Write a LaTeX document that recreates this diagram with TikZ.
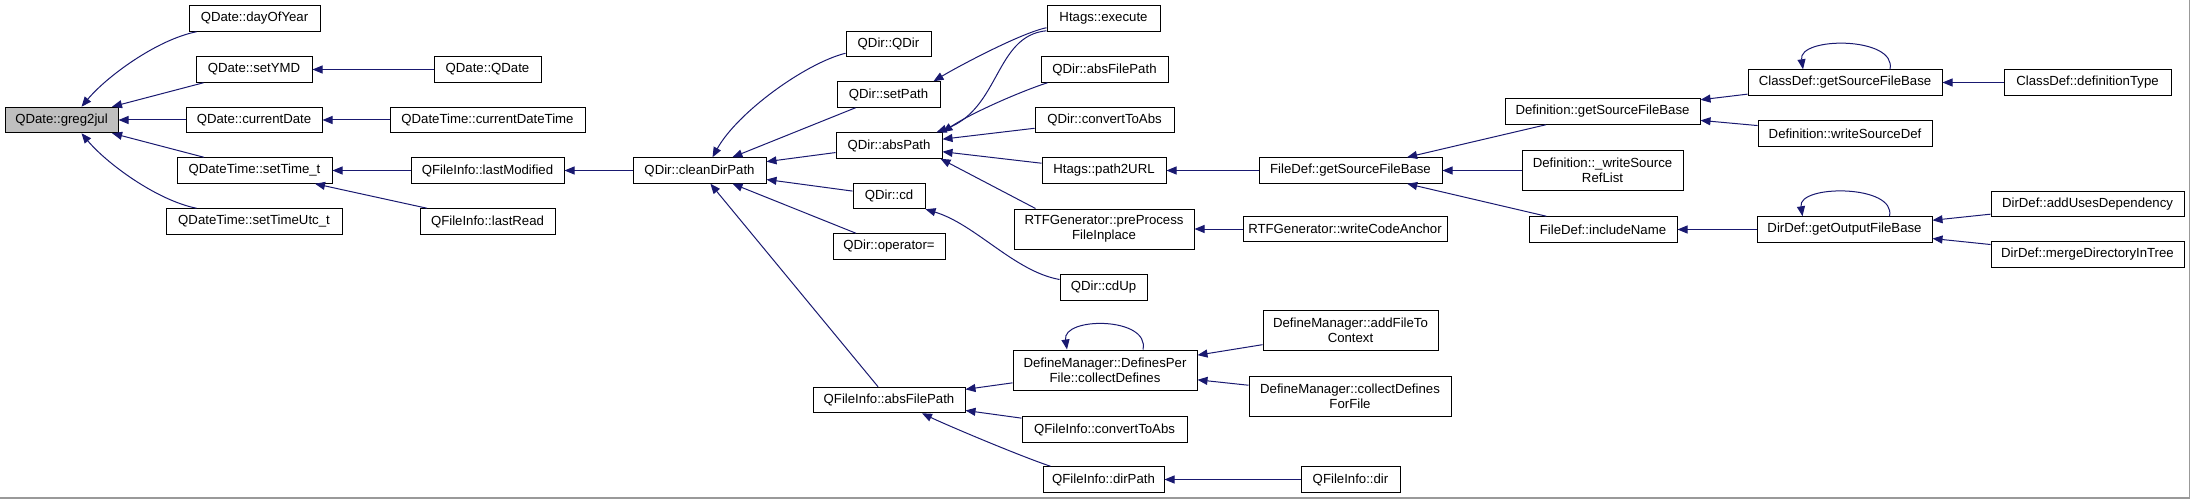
\documentclass[tikz,border=0pt]{standalone}
\usepackage{fontspec}
\setmainfont{Liberation Sans}
\usetikzlibrary{arrows.meta}
\definecolor{edgeblue}{HTML}{191970}
\begin{document}
\begin{tikzpicture}[x=0.75pt,y=-0.75pt,
    fn/.style={draw,line width=0.75pt,inner sep=0pt,minimum width=#1*0.75pt,
      minimum height=25.5*0.75pt,font=\fontsize{9.9}{11.25}\selectfont},
    fn2/.style={fn=#1,minimum height=40*0.75pt,align=center},
    call/.style={draw=edgeblue,line width=0.75pt,-{Triangle[length=7.5pt,width=6pt]}}]
        \useasboundingbox (0,0) rectangle (2191,499);
        \draw[black!40,line width=1.1pt] (0,498.2) -- (2189.6,498.2) -- (2189.6,0);
        \node[fn=113,fill=gray!50] (greg) at (61.5,120) {QDate::greg2jul};
        \node[fn=131] (dayOfYear) at (254.5,18.5) {QDate::dayOfYear};
        \node[fn=116] (setYMD) at (254,69.5) {QDate::setYMD};
        \node[fn=136] (curDate) at (254,120) {QDate::currentDate};
        \node[fn=155] (setTimeT) at (254.5,170.5) {QDateTime::setTime\_t};
        \node[fn=176] (setTimeUtc) at (254,221.5) {QDateTime::setTimeUtc\_t};
        \node[fn=107] (qdate) at (487.5,69.5) {QDate::QDate};
        \node[fn=195] (curDateTime) at (487.5,120) {QDateTime::currentDateTime};
        \node[fn=153] (lastMod) at (487.5,170.5) {QFileInfo::lastModified};
        \node[fn=135] (lastRead) at (487.5,221.5) {QFileInfo::lastRead};
        \node[fn=133] (cleanDir) at (699.5,170.5) {QDir::cleanDirPath};
        \node[fn=85] (qdir) at (888.5,44) {QDir::QDir};
        \node[fn=103] (setPath) at (888.5,94.5) {QDir::setPath};
        \node[fn=106] (absPath) at (889,145.5) {QDir::absPath};
        \node[fn=72] (cd) at (889,196) {QDir::cd};
        \node[fn=112] (opAssign) at (889,246.5) {QDir::operator=};
        \node[fn=152] (fiAbsPath) at (889,400) {QFileInfo::absFilePath};
        \node[fn=113] (execute) at (1103.5,18.5) {Htags::execute};
        \node[fn=127] (dirAbsPath) at (1104.5,69.5) {QDir::absFilePath};
        \node[fn=139] (dirConvert) at (1104.5,120) {QDir::convertToAbs};
        \node[fn=124] (path2url) at (1104,170.5) {Htags::path2URL};
        \node[fn2=180] (preProcess) at (1104,229) {RTFGenerator::preProcess\\FileInplace};
        \node[fn=87] (cdUp) at (1103.5,287.5) {QDir::cdUp};
        \node[fn2=184] (collectDefs) at (1105,370) {DefineManager::DefinesPer\\File::collectDefines};
        \node[fn=165] (fiConvert) at (1104.5,429.5) {QFileInfo::convertToAbs};
        \node[fn=121] (fiDirPath) at (1103.5,479.5) {QFileInfo::dirPath};
        \node[fn=183] (fdSrcBase) at (1350.5,170.5) {FileDef::getSourceFileBase};
        \node[fn=204] (codeAnchor) at (1345,229) {RTFGenerator::writeCodeAnchor};
        \node[fn2=175] (addFile) at (1350.5,330.5) {DefineManager::addFileTo\\Context};
        \node[fn2=202] (collectFor) at (1350,396) {DefineManager::collectDefines\\ForFile};
        \node[fn=99] (fiDir) at (1350.5,479.5) {QFileInfo::dir};
        \node[fn=195] (defSrcBase) at (1602.5,111.5) {Definition::getSourceFileBase};
        \node[fn2=161] (writeRef) at (1602.5,170.5) {Definition::\_writeSource\\RefList};
        \node[fn=148] (includeName) at (1603,229.5) {FileDef::includeName};
        \node[fn=194] (cdSrcBase) at (1845,82.5) {ClassDef::getSourceFileBase};
        \node[fn=174] (writeSrcDef) at (1845,133.5) {Definition::writeSourceDef};
        \node[fn=175] (outBase) at (1844.5,229.5) {DirDef::getOutputFileBase};
        \node[fn=167] (defType) at (2087.5,82.5) {ClassDef::definitionType};
        \node[fn=193] (addUses) at (2087.5,204) {DirDef::addUsesDependency};
        \node[fn=193] (mergeDir) at (2087.5,254.5) {DirDef::mergeDirectoryInTree};
        \foreach \from/\to in {setYMD/greg,curDate/greg,setTimeT/greg,qdate/setYMD,
            curDateTime/curDate,lastMod/setTimeT,lastRead/setTimeT,cleanDir/lastMod,
            setPath/cleanDir,absPath/cleanDir,cd/cleanDir,opAssign/cleanDir,fiAbsPath/cleanDir,
            dirConvert/absPath,path2url/absPath,fdSrcBase/path2url,codeAnchor/preProcess,
            collectDefs/fiAbsPath,fiConvert/fiAbsPath,addFile/collectDefs,collectFor/collectDefs,
            fiDir/fiDirPath,defSrcBase/fdSrcBase,writeRef/fdSrcBase,includeName/fdSrcBase,
            cdSrcBase/defSrcBase,writeSrcDef/defSrcBase,defType/cdSrcBase,outBase/includeName,
            addUses/outBase,mergeDir/outBase}{
            \draw[call] (\from) -- (\to);
        }
        \draw[call] ([shift={(8,0)}]dayOfYear.south west) .. controls +(-40,8) and +(25,-30) .. ([shift={(20,0)}]greg.north);
        \draw[call] ([shift={(31,0)}]setTimeUtc.north west) .. controls +(-40,-8) and +(25,30) .. ([shift={(20,0)}]greg.south);
        \draw[call] ([shift={(0,-4)}]qdir.south west) .. controls +(-40,10) and +(25,-45) .. ([shift={(13,0)}]cleanDir.north);
        \draw[call] ([shift={(0,-4)}]execute.south west) .. controls +(-25,5) and +(25,-15) .. ([shift={(-7,0)}]setPath.north east);
        \draw[call] ([shift={(0,-1)}]execute.south west) .. controls +(-52,5) and +(64,-23) .. ([shift={(-6,0)}]absPath.north east);
        \draw[call] ([shift={(7,0)}]dirAbsPath.south west) .. controls +(-25,8) and +(30,-20) .. (absPath.north east);
        \draw[call] ([shift={(22,0)}]preProcess.north west) -- ([shift={(-2,0)}]absPath.south east);
        \draw[call] ([shift={(0,-8)}]cdUp.west) .. controls +(-45,-8) and +(50,15) .. (cd.south east);
        \draw[call] ([shift={(8,0)}]fiDirPath.north west) .. controls +(-30,-10) and +(25,12) .. ([shift={(33,0)}]fiAbsPath.south);
        \draw[call] ([shift={(38,0)}]collectDefs.north) .. controls +(7,-33) and +(-5,-33) .. ([shift={(-38,0)}]collectDefs.north);
        \draw[call] ([shift={(45,0)}]cdSrcBase.north) .. controls +(7,-33) and +(-5,-33) .. ([shift={(-42,0)}]cdSrcBase.north);
        \draw[call] ([shift={(45,0)}]outBase.north) .. controls +(7,-32) and +(-5,-32) .. ([shift={(-42,0)}]outBase.north);
\end{tikzpicture}
\end{document}
